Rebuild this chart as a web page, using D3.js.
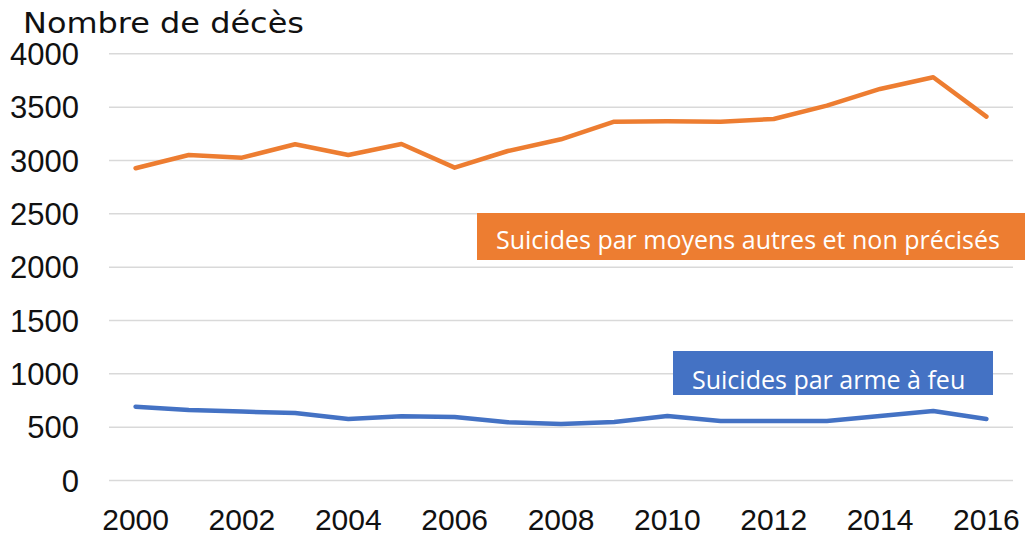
<!DOCTYPE html>
<html>
<head>
<meta charset="utf-8">
<script src="https://cdn.jsdelivr.net/npm/d3@7"></script>
<style>
  html, body { margin: 0; padding: 0; background: #ffffff; }
  svg { display: block; }
</style>
</head>
<body>
<svg id="chart" width="1025" height="537"></svg>
<script>
// ---- Data ----
const years = [2000, 2001, 2002, 2003, 2004, 2005, 2006, 2007, 2008, 2009, 2010, 2011, 2012, 2013, 2014, 2015, 2016];
const autresValues = [2922, 3047, 3022, 3147, 3047, 3150, 2928, 3084, 3194, 3359, 3362, 3359, 3384, 3510, 3666, 3775, 3406];
const armeValues   = [687, 656, 641, 628, 572, 597, 591, 541, 525, 544, 600, 553, 553, 553, 600, 647, 572];
const yTicks = [0, 500, 1000, 1500, 2000, 2500, 3000, 3500, 4000];
const xTickYears = [2000, 2002, 2004, 2006, 2008, 2010, 2012, 2014, 2016];
const seriesNames = ["Suicides par moyens autres et non précisés", "Suicides par arme à feu"];
const seriesColors = ["#ED7D31", "#4472C4"];
const yTitle = "Nombre de décès";

// ---- Layout ----
const svg = d3.select("#chart");
const plotLeft = 109, plotRight = 1013, plotTop = 53.3, plotBottom = 480;

const x = d3.scaleBand().domain(years).range([plotLeft, plotRight]).padding(0);
const xc = d => x(d) + x.bandwidth() / 2;
const y = d3.scaleLinear().domain([0, 4000]).range([plotBottom, plotTop]);

// gridlines
const yAxis = d3.axisLeft(y).tickValues(yTicks).tickSize(-(plotRight - plotLeft)).tickFormat(d => d);
const gy = svg.append("g").attr("transform", `translate(${plotLeft},0)`).call(yAxis);
gy.select(".domain").remove();
gy.selectAll(".tick line").attr("stroke", "#d9d9d9").attr("stroke-width", 1.5);
gy.selectAll(".tick text")
  .attr("x", -30)
  .attr("dy", "0.36em")
  .attr("fill", "#111")
  .style("font-family", "'Liberation Sans', Arial, sans-serif")
  .style("font-size", "31px");

// x axis labels
const xAxis = d3.axisBottom(x).tickValues(xTickYears).tickSize(0);
const gx = svg.append("g").attr("transform", `translate(0,${plotBottom})`).call(xAxis);
gx.select(".domain").remove();
gx.selectAll(".tick text")
  .attr("y", 50)
  .attr("dy", 0)
  .attr("fill", "#111")
  .style("font-family", "'Liberation Sans', Arial, sans-serif")
  .style("font-size", "30px");

// title
svg.append("text")
  .attr("x", 23).attr("y", 33)
  .attr("fill", "#111")
  .attr("textLength", 281)
  .attr("lengthAdjust", "spacingAndGlyphs")
  .style("font-family", "'DejaVu Sans', sans-serif")
  .style("font-size", "28px")
  .text(yTitle);

// lines
const line = d3.line().x((d, i) => xc(years[i])).y(d => y(d));
[autresValues, armeValues].forEach((vals, k) => {
  svg.append("path")
    .datum(vals)
    .attr("d", line)
    .attr("fill", "none")
    .attr("stroke", seriesColors[k])
    .attr("stroke-width", 4.5)
    .attr("stroke-linejoin", "round")
    .attr("stroke-linecap", "round");
});

// label boxes
const boxes = [
  { x0: 477, y0: 213, x1: 1025, y1: 260, tx: 496, ty: 249 },
  { x0: 673, y0: 351, x1: 993, y1: 395, tx: 692, ty: 389 }
];
boxes.forEach((b, k) => {
  const clipId = "clip" + k;
  svg.append("clipPath").attr("id", clipId)
    .append("rect").attr("x", b.x0).attr("y", b.y0).attr("width", b.x1 - b.x0).attr("height", b.y1 - b.y0);
  const g = svg.append("g").attr("clip-path", `url(#${clipId})`);
  g.append("rect")
    .attr("x", b.x0).attr("y", b.y0)
    .attr("width", b.x1 - b.x0).attr("height", b.y1 - b.y0)
    .attr("fill", seriesColors[k]);
  g.append("text")
    .attr("x", b.tx).attr("y", b.ty)
    .attr("fill", "#ffffff")
    .style("font-family", "'Open Sans', sans-serif")
    .style("font-size", "25px")
    .text(seriesNames[k]);
});
</script>
</body>
</html>
